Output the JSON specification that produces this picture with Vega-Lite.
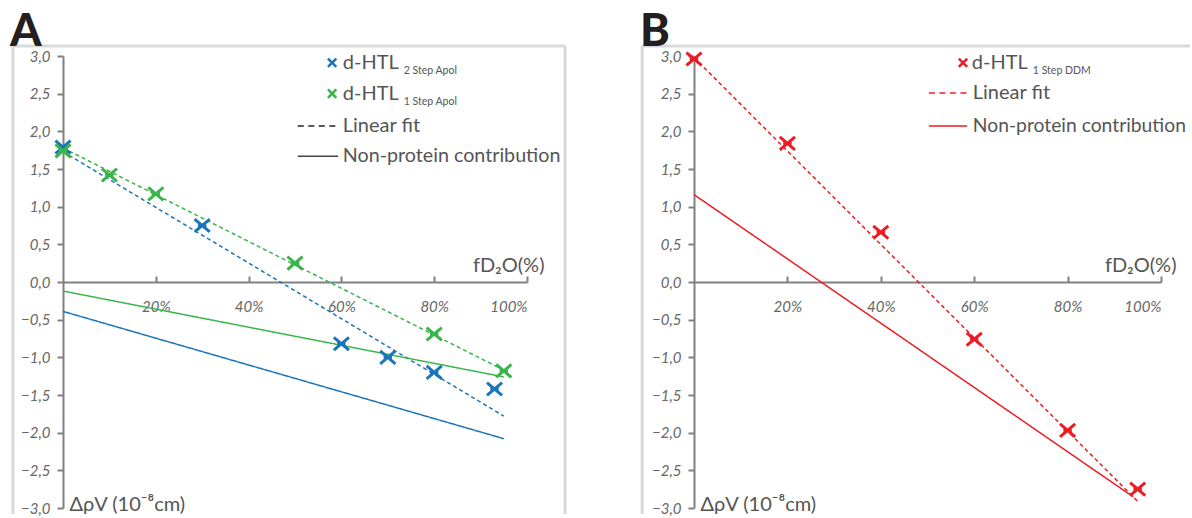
{
  "$schema": "https://vega.github.io/schema/vega-lite/v6.json",
  "padding": {"left": 10, "top": 10, "right": 0, "bottom": 0},
  "background": "white",
  "bounds": "flush",
  "spacing": 167,
  "config": {
    "view": {"stroke": null},
    "font": "Lato",
    "axis": {
      "grid": false,
      "domainColor": "#808080",
      "domainWidth": 2,
      "tickColor": "#808080",
      "tickWidth": 2,
      "labelOverlap": false,
      "labelFont": "Lato",
      "labelFontStyle": "italic",
      "labelColor": "#666666",
      "labelFontSize": 15,
      "titleFont": "Lato",
      "titleFontWeight": "normal",
      "titleColor": "#555555",
      "titleFontSize": 20
    }
  },
  "datasets": {
    "pts": [
      {"panel": "A", "series": "2 Step Apol", "x": 0, "y": 1.79},
      {"panel": "A", "series": "2 Step Apol", "x": 30, "y": 0.75},
      {"panel": "A", "series": "2 Step Apol", "x": 60, "y": -0.82},
      {"panel": "A", "series": "2 Step Apol", "x": 70, "y": -1.0},
      {"panel": "A", "series": "2 Step Apol", "x": 80, "y": -1.2},
      {"panel": "A", "series": "2 Step Apol", "x": 93, "y": -1.42},
      {"panel": "A", "series": "1 Step Apol", "x": 0, "y": 1.74},
      {"panel": "A", "series": "1 Step Apol", "x": 10, "y": 1.42},
      {"panel": "A", "series": "1 Step Apol", "x": 20, "y": 1.17},
      {"panel": "A", "series": "1 Step Apol", "x": 50, "y": 0.25},
      {"panel": "A", "series": "1 Step Apol", "x": 80, "y": -0.69},
      {"panel": "A", "series": "1 Step Apol", "x": 95, "y": -1.18},
      {"panel": "B", "series": "1 Step DDM", "x": 0, "y": 2.96},
      {"panel": "B", "series": "1 Step DDM", "x": 20, "y": 1.84},
      {"panel": "B", "series": "1 Step DDM", "x": 40, "y": 0.66},
      {"panel": "B", "series": "1 Step DDM", "x": 60, "y": -0.76},
      {"panel": "B", "series": "1 Step DDM", "x": 80, "y": -1.97},
      {"panel": "B", "series": "1 Step DDM", "x": 95, "y": -2.75}
    ],
    "lines": [
      {"panel": "A", "series": "2 Step Apol", "kind": "fit", "x": 0, "y": 1.73},
      {"panel": "A", "series": "2 Step Apol", "kind": "fit", "x": 95, "y": -1.78},
      {"panel": "A", "series": "2 Step Apol", "kind": "nonprotein", "x": 0, "y": -0.39},
      {"panel": "A", "series": "2 Step Apol", "kind": "nonprotein", "x": 95, "y": -2.08},
      {"panel": "A", "series": "1 Step Apol", "kind": "fit", "x": 0, "y": 1.78},
      {"panel": "A", "series": "1 Step Apol", "kind": "fit", "x": 95, "y": -1.17},
      {"panel": "A", "series": "1 Step Apol", "kind": "nonprotein", "x": 0, "y": -0.12},
      {"panel": "A", "series": "1 Step Apol", "kind": "nonprotein", "x": 95, "y": -1.26},
      {"panel": "B", "series": "1 Step DDM", "kind": "fit", "x": 0, "y": 2.98},
      {"panel": "B", "series": "1 Step DDM", "kind": "fit", "x": 95.3, "y": -2.93},
      {"panel": "B", "series": "1 Step DDM", "kind": "nonprotein", "x": 0, "y": 1.16},
      {"panel": "B", "series": "1 Step DDM", "kind": "nonprotein", "x": 94, "y": -2.85}
    ]
  },
  "hconcat": [
    {
      "width": 464,
      "height": 452,
      "title": {"text": "A", "anchor": "start", "frame": "group", "dx": -53, "offset": -47, "baseline": "alphabetic", "fontSize": 45, "fontWeight": 900, "color": "#231f20", "font": "Lato"},
      "layer": [
        {
          "data": {"name": "lines"},
          "transform": [{"filter": "datum.panel === 'A'"}],
          "mark": {"type": "line", "strokeWidth": 1.5},
          "encoding": {
            "x": {"field": "x", "type": "quantitative", "scale": {"domain": [0, 100], "nice": false, "zero": false},
              "axis": {"values": [20, 40, 60, 80, 100], "orient": "bottom", "offset": -226, "tickSize": -6, "labelPadding": 23, "labelOverlap": false, "labelExpr": "datum.value + '%'",
                "title": "fD₂O(%)", "titleX": 481, "titleY": -11, "titleAlign": "right", "titleBaseline": "alphabetic", "titleAngle": 0}},
            "y": {"field": "y", "type": "quantitative", "scale": {"domain": [-3, 3], "nice": false, "zero": false},
              "axis": {"values": [-3, -2.5, -2, -1.5, -1, -0.5, 0, 0.5, 1, 1.5, 2, 2.5, 3], "tickCount": 13, "tickSize": 6, "labelPadding": 7, "labelOverlap": false, "labelExpr": "replace(format(datum.value, '.1f'), '.', ',')",
                "title": "ΔρV (10⁻⁸cm)", "titleAngle": 0, "titleX": 6, "titleY": 454, "titleAlign": "left", "titleBaseline": "alphabetic"}},
            "color": {"field": "series", "type": "nominal", "scale": {"domain": ["2 Step Apol", "1 Step Apol", "1 Step DDM"], "range": ["#1b75bb", "#39b54a", "#ed1c24"]}, "legend": null},
            "strokeDash": {"field": "kind", "type": "nominal", "scale": {"domain": ["fit", "nonprotein"], "range": [[4, 3], [1, 0]]}, "legend": null}
          }
        },
        {
          "data": {"values": [{}]},
          "mark": {"type": "rule", "color": "#d9d9d9", "strokeWidth": 3},
          "encoding": {"x": {"datum": -10.8, "type": "quantitative"}, "x2": {"datum": 108.2}, "y": {"datum": 3.134, "type": "quantitative"}}
        },
        {
          "data": {"values": [{}]},
          "mark": {"type": "rule", "color": "#d9d9d9", "strokeWidth": 3},
          "encoding": {"x": {"datum": -10.8, "type": "quantitative"}, "y": {"datum": 3.134, "type": "quantitative"}, "y2": {"datum": -3.08}}
        },
        {
          "data": {"values": [{}]},
          "mark": {"type": "rule", "color": "#d9d9d9", "strokeWidth": 3},
          "encoding": {"x": {"datum": 108.2, "type": "quantitative"}, "y": {"datum": 3.134, "type": "quantitative"}, "y2": {"datum": -3.08}}
        },
        {
          "data": {"name": "pts"},
          "transform": [{"filter": "datum.panel === 'A'"}],
          "mark": {"type": "point", "shape": "M-1,-0.85L1,0.85M-1,0.85L1,-0.85M-0.55,0L0.55,0", "filled": false, "strokeWidth": 3, "size": 230, "opacity": 1},
          "encoding": {
            "x": {"field": "x", "type": "quantitative"},
            "y": {"field": "y", "type": "quantitative"},
            "color": {"field": "series", "type": "nominal", "legend": null}
          }
        },
        {
          "data": {"values": [{}]},
          "mark": {"type": "point", "shape": "M-1,-1L1,1M-1,1L1,-1", "filled": false, "strokeWidth": 2.5, "size": 70, "opacity": 1, "color": "#1b75bb"},
          "encoding": {"x": {"datum": 58.0, "type": "quantitative"}, "y": {"datum": 2.91, "type": "quantitative"}}
        },
        {
          "data": {"values": [{}]},
          "mark": {"type": "point", "shape": "M-1,-1L1,1M-1,1L1,-1", "filled": false, "strokeWidth": 2.5, "size": 70, "opacity": 1, "color": "#39b54a"},
          "encoding": {"x": {"datum": 58.0, "type": "quantitative"}, "y": {"datum": 2.5, "type": "quantitative"}}
        },
        {
          "data": {"values": [{}]},
          "mark": {"type": "rule", "color": "#222222", "strokeWidth": 1.5, "strokeDash": [6, 4.5]},
          "encoding": {"x": {"datum": 50.6, "type": "quantitative"}, "x2": {"datum": 59.5}, "y": {"datum": 2.07, "type": "quantitative"}}
        },
        {
          "data": {"values": [{}]},
          "mark": {"type": "rule", "color": "#444444", "strokeWidth": 1.5},
          "encoding": {"x": {"datum": 50.6, "type": "quantitative"}, "x2": {"datum": 59.3}, "y": {"datum": 1.67, "type": "quantitative"}}
        },
        {
          "data": {"values": [{}]},
          "mark": {"type": "text", "text": "d-HTL", "align": "left", "baseline": "middle", "fontSize": 20, "color": "#555555", "font": "Lato"},
          "encoding": {"x": {"datum": 60.3, "type": "quantitative"}, "y": {"datum": 2.91, "type": "quantitative"}}
        },
        {
          "data": {"values": [{}]},
          "mark": {"type": "text", "text": "2 Step Apol", "align": "left", "baseline": "middle", "fontSize": 10.5, "dx": 61, "dy": 8, "color": "#555555", "font": "Lato"},
          "encoding": {"x": {"datum": 60.3, "type": "quantitative"}, "y": {"datum": 2.91, "type": "quantitative"}}
        },
        {
          "data": {"values": [{}]},
          "mark": {"type": "text", "text": "d-HTL", "align": "left", "baseline": "middle", "fontSize": 20, "color": "#555555", "font": "Lato"},
          "encoding": {"x": {"datum": 60.3, "type": "quantitative"}, "y": {"datum": 2.5, "type": "quantitative"}}
        },
        {
          "data": {"values": [{}]},
          "mark": {"type": "text", "text": "1 Step Apol", "align": "left", "baseline": "middle", "fontSize": 10.5, "dx": 61, "dy": 8, "color": "#555555", "font": "Lato"},
          "encoding": {"x": {"datum": 60.3, "type": "quantitative"}, "y": {"datum": 2.5, "type": "quantitative"}}
        },
        {
          "data": {"values": [{}]},
          "mark": {"type": "text", "text": "Linear fit", "align": "left", "baseline": "middle", "fontSize": 20, "color": "#555555", "font": "Lato"},
          "encoding": {"x": {"datum": 60.3, "type": "quantitative"}, "y": {"datum": 2.07, "type": "quantitative"}}
        },
        {
          "data": {"values": [{}]},
          "mark": {"type": "text", "text": "Non-protein contribution", "align": "left", "baseline": "middle", "fontSize": 19.7, "color": "#555555", "font": "Lato"},
          "encoding": {"x": {"datum": 60.3, "type": "quantitative"}, "y": {"datum": 1.67, "type": "quantitative"}}
        }
      ]
    },
    {
      "width": 467,
      "height": 452,
      "title": {"text": "B", "anchor": "start", "frame": "group", "dx": -54, "offset": -47, "baseline": "alphabetic", "fontSize": 45, "fontWeight": 900, "color": "#231f20", "font": "Lato"},
      "layer": [
        {
          "data": {"name": "lines"},
          "transform": [{"filter": "datum.panel === 'B'"}],
          "mark": {"type": "line", "strokeWidth": 1.5},
          "encoding": {
            "x": {"field": "x", "type": "quantitative", "scale": {"domain": [0, 100], "nice": false, "zero": false},
              "axis": {"values": [20, 40, 60, 80, 100], "orient": "bottom", "offset": -226, "tickSize": -6, "labelPadding": 23, "labelOverlap": false, "labelExpr": "datum.value + '%'",
                "title": "fD₂O(%)", "titleX": 482, "titleY": -11, "titleAlign": "right", "titleBaseline": "alphabetic", "titleAngle": 0}},
            "y": {"field": "y", "type": "quantitative", "scale": {"domain": [-3, 3], "nice": false, "zero": false},
              "axis": {"values": [-3, -2.5, -2, -1.5, -1, -0.5, 0, 0.5, 1, 1.5, 2, 2.5, 3], "tickCount": 13, "tickSize": 6, "labelPadding": 7, "labelOverlap": false, "labelExpr": "replace(format(datum.value, '.1f'), '.', ',')",
                "title": "ΔρV (10⁻⁸cm)", "titleAngle": 0, "titleX": 6, "titleY": 454, "titleAlign": "left", "titleBaseline": "alphabetic"}},
            "color": {"field": "series", "type": "nominal", "scale": {"domain": ["2 Step Apol", "1 Step Apol", "1 Step DDM"], "range": ["#1b75bb", "#39b54a", "#ed1c24"]}, "legend": null},
            "strokeDash": {"field": "kind", "type": "nominal", "scale": {"domain": ["fit", "nonprotein"], "range": [[4, 3], [1, 0]]}, "legend": null}
          }
        },
        {
          "data": {"values": [{}]},
          "mark": {"type": "rule", "color": "#d9d9d9", "strokeWidth": 3},
          "encoding": {"x": {"datum": -11.1, "type": "quantitative"}, "x2": {"datum": 106.2}, "y": {"datum": 3.134, "type": "quantitative"}}
        },
        {
          "data": {"values": [{}]},
          "mark": {"type": "rule", "color": "#d9d9d9", "strokeWidth": 3},
          "encoding": {"x": {"datum": -11.1, "type": "quantitative"}, "y": {"datum": 3.134, "type": "quantitative"}, "y2": {"datum": -3.08}}
        },
        {
          "data": {"name": "pts"},
          "transform": [{"filter": "datum.panel === 'B'"}],
          "mark": {"type": "point", "shape": "M-1,-0.85L1,0.85M-1,0.85L1,-0.85M-0.55,0L0.55,0", "filled": false, "strokeWidth": 3, "size": 230, "opacity": 1},
          "encoding": {
            "x": {"field": "x", "type": "quantitative"},
            "y": {"field": "y", "type": "quantitative"},
            "color": {"field": "series", "type": "nominal", "legend": null}
          }
        },
        {
          "data": {"values": [{}]},
          "mark": {"type": "point", "shape": "M-1,-1L1,1M-1,1L1,-1", "filled": false, "strokeWidth": 2.5, "size": 70, "opacity": 1, "color": "#ed1c24"},
          "encoding": {"x": {"datum": 57.6, "type": "quantitative"}, "y": {"datum": 2.91, "type": "quantitative"}}
        },
        {
          "data": {"values": [{}]},
          "mark": {"type": "rule", "color": "#ed1c24", "strokeWidth": 1.5, "strokeDash": [6, 4.5]},
          "encoding": {"x": {"datum": 50.3, "type": "quantitative"}, "x2": {"datum": 58.5}, "y": {"datum": 2.51, "type": "quantitative"}}
        },
        {
          "data": {"values": [{}]},
          "mark": {"type": "rule", "color": "#ed1c24", "strokeWidth": 1.5},
          "encoding": {"x": {"datum": 50.3, "type": "quantitative"}, "x2": {"datum": 58.5}, "y": {"datum": 2.07, "type": "quantitative"}}
        },
        {
          "data": {"values": [{}]},
          "mark": {"type": "text", "text": "d-HTL", "align": "left", "baseline": "middle", "fontSize": 20, "color": "#555555", "font": "Lato"},
          "encoding": {"x": {"datum": 59.5, "type": "quantitative"}, "y": {"datum": 2.91, "type": "quantitative"}}
        },
        {
          "data": {"values": [{}]},
          "mark": {"type": "text", "text": "1 Step DDM", "align": "left", "baseline": "middle", "fontSize": 10.5, "dx": 61, "dy": 8, "color": "#555555", "font": "Lato"},
          "encoding": {"x": {"datum": 59.5, "type": "quantitative"}, "y": {"datum": 2.91, "type": "quantitative"}}
        },
        {
          "data": {"values": [{}]},
          "mark": {"type": "text", "text": "Linear fit", "align": "left", "baseline": "middle", "fontSize": 20, "color": "#555555", "font": "Lato"},
          "encoding": {"x": {"datum": 59.7, "type": "quantitative"}, "y": {"datum": 2.51, "type": "quantitative"}}
        },
        {
          "data": {"values": [{}]},
          "mark": {"type": "text", "text": "Non-protein contribution", "align": "left", "baseline": "middle", "fontSize": 19.3, "color": "#555555", "font": "Lato"},
          "encoding": {"x": {"datum": 59.7, "type": "quantitative"}, "y": {"datum": 2.07, "type": "quantitative"}}
        }
      ]
    }
  ]
}
